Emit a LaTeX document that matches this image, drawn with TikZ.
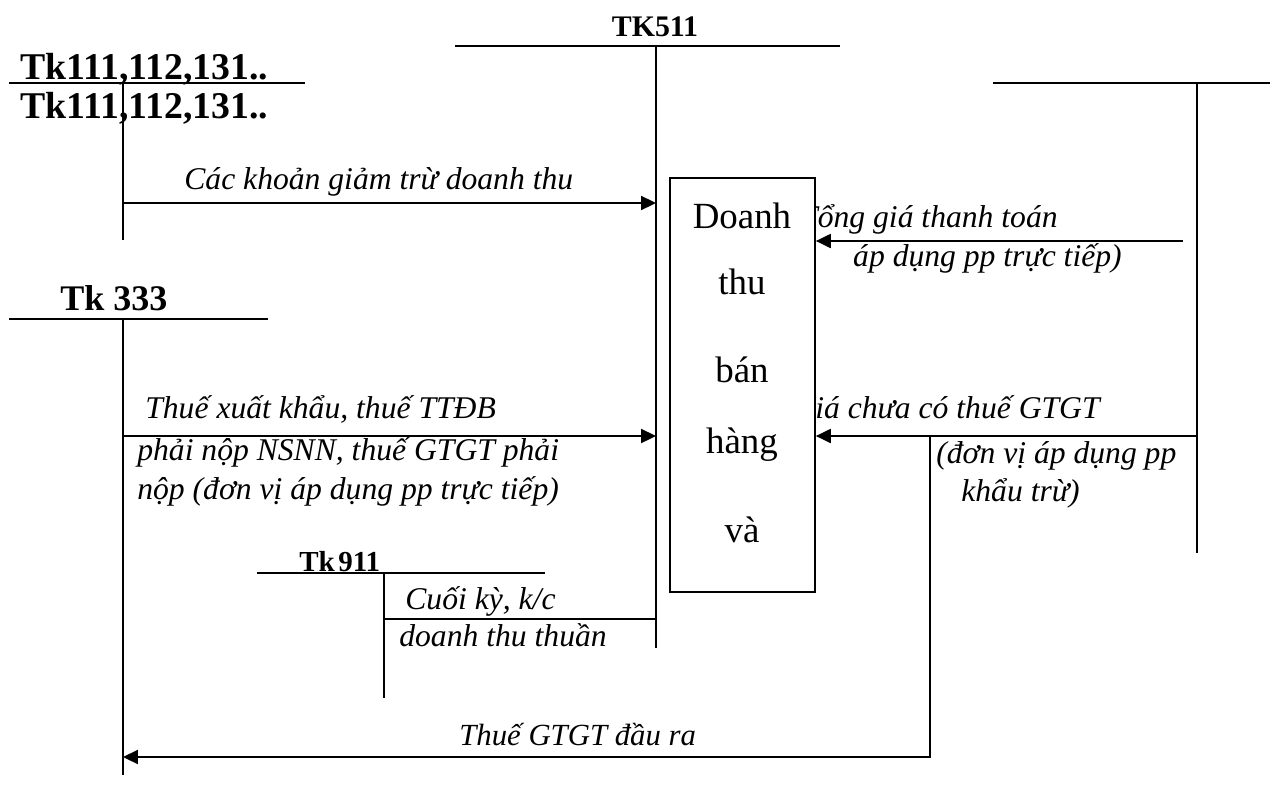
\documentclass[tikz,border=0pt]{standalone}
\usepackage{fontspec}
\setmainfont{Liberation Serif}
\usetikzlibrary{arrows.meta}
\tikzstyle{ledger} = [x = 0.02cm, y = -0.02cm]
\tikzstyle{accountLine} = [line width=1pt]
\tikzstyle{flowLine} = [line width=1pt]
\tikzstyle{flowArrow} = [line width=1pt, -{Triangle[length=8.5pt, width=8pt]}]
\tikzstyle{noteText} = [font=\fontsize{18}{21}\selectfont\itshape, inner sep=0pt]
\tikzstyle{bigNote} = [font=\fontsize{17.5}{20}\selectfont\itshape, inner sep=0pt]
\tikzstyle{accountName} = [inner sep=0pt, anchor=base west]
\tikzstyle{boxText} = [font=\fontsize{21}{25}\selectfont, inner sep=0pt, anchor=base]
\tikzstyle{revenueBox} = [draw, fill=white, line width=1pt, minimum width=2.9cm, minimum height=8.28cm, inner sep=0pt]
\newcommand{\tAccount}[6]{
  \coordinate (#1L) at (#3,#2);
  \coordinate (#1R) at (#4,#2);
  \coordinate (#1T) at (#5,#2);
  \coordinate (#1B) at (#5,#6);
  \draw [accountLine] (#1L) -- (#1R);
  \draw [accountLine] (#1T) -- (#1B);
}

\begin{document}
\begin{tikzpicture}[ledger]
  \useasboundingbox (0,0) rectangle (1277,808);
  % cac tai khoan chu T
  \tAccount{kFiveEleven}{46}{455}{840}{656}{648}
  \tAccount{kCash}{83}{9}{305}{123}{240}
  \tAccount{kRight}{83}{993}{1270}{1197}{553}
  \tAccount{kTax}{319}{9}{268}{123}{775}
  \tAccount{kNineEleven}{573}{257}{545}{384}{698}

  \node [accountName, font=\fontsize{17}{20}\selectfont\bfseries, anchor=base] (nameFiveEleven) at (655,36) {TK511};
  \node [accountName, font=\fontsize{21.5}{24}\selectfont\bfseries] (nameCashTop) at (20,79) {Tk111,112,131..};
  \node [accountName, font=\fontsize{21.5}{24}\selectfont\bfseries] (nameCashBottom) at (20,118) {Tk111,112,131..};
  \node [accountName, font=\fontsize{20.5}{24}\selectfont\bfseries] (nameTax) at (60,310) {Tk 333};
  \node [accountName, font=\fontsize{16.5}{20}\selectfont\bfseries] (nameNineEleven) at (299,571) {Tk\kern2pt911};

  % dien giai
  \node [noteText, anchor=base west] (noteGiam) at (184,189) {Các khoản giảm trừ doanh thu};
  \node [noteText, anchor=base east] (noteTongA) at (1058,227) {Tổng giá thanh toán};
  \node [noteText, anchor=base east] (noteTongB) at (1122,266) {(đơn vị\hspace{1.1em} áp dụng pp trực tiếp)};
  \node [noteText, anchor=base west] (noteThueA) at (145,418) {Thuế xuất khẩu, thuế TTĐB};
  \node [noteText, anchor=base west] (noteThueB) at (137,460) {phải nộp NSNN, thuế GTGT phải};
  \node [noteText, anchor=base west] (noteThueC) at (137,499) {nộp (đơn vị áp dụng pp trực tiếp)};
  \node [noteText, anchor=base east] (noteChuaA) at (1100,418) {Giá chưa có thuế GTGT};
  \node [noteText, anchor=base west] (noteChuaB) at (936,463) {(đơn vị áp dụng pp};
  \node [noteText, anchor=base west] (noteChuaC) at (961,501) {khẩu trừ)};
  \node [noteText, anchor=base west] (noteKetA) at (405,609) {Cuối kỳ, k/c};
  \node [noteText, anchor=base west] (noteKetB) at (399,646) {doanh thu thuần};
  \node [bigNote, anchor=base west] (noteDauRa) at (459,745) {Thuế GTGT đầu ra};

  % o doanh thu
  \node [revenueBox] (dtBox) at (742.5,385) {};
  \node [boxText] (boxDoanh) at (742,228) {Doanh};
  \node [boxText] (boxThu) at (742,294) {thu};
  \node [boxText] (boxBan) at (742,382) {bán};
  \node [boxText] (boxHang) at (742,453) {hàng};
  \node [boxText] (boxVa) at (742,542) {và};

  % cac but toan
  \coordinate (giamFrom) at (123,203);
  \coordinate (giamTo) at (656,203);
  \coordinate (tongFrom) at (1183,241);
  \coordinate (thueFrom) at (123,436);
  \coordinate (thueTo) at (656,436);
  \coordinate (chuaFrom) at (1197,436);
  \coordinate (ketFrom) at (656,619);
  \coordinate (ketTo) at (384,619);
  \coordinate (dauRaFrom) at (930,436);
  \coordinate (dauRaTo) at (123,757);
  \draw [flowArrow] (giamFrom) -- (giamTo);
  \draw [flowArrow] (tongFrom) -- (dtBox.east |- tongFrom);
  \draw [flowArrow] (thueFrom) -- (thueTo);
  \draw [flowArrow] (chuaFrom) -- (dtBox.east |- chuaFrom);
  \draw [flowLine] (ketFrom) -- (ketTo);
  \draw [flowArrow] (dauRaFrom) |- (dauRaTo);
\end{tikzpicture}
\end{document}
